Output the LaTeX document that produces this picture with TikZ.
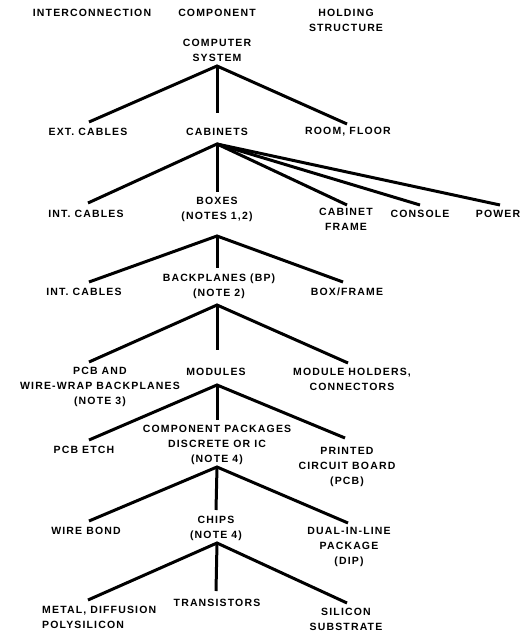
\documentclass[tikz,border=0pt]{standalone}
\usepackage{fontspec}
\setmainfont{Liberation Sans}[LetterSpace=11]
\begin{document}
\begin{tikzpicture}[x=1pt,y=-1pt,
  lbl/.style={inner sep=0pt, align=center, font=\fontsize{10.5}{15}\selectfont\bfseries},
  br/.style={line width=3pt, line cap=butt}]
\useasboundingbox (0,0) rectangle (527,631);
% headers
\node[lbl] (hInter) at (92,13) {INTERCONNECTION};
\node[lbl] (hComp) at (217,13) {COMPONENT};
\node[lbl] (hHold) at (346,20) {HOLDING\\STRUCTURE};
% level 0
\node[lbl] (sys) at (217,50.5) {COMPUTER\\SYSTEM};
% level 1
\node[lbl] (ext) at (88,132) {EXT. CABLES};
\node[lbl] (cab) at (217,132) {CABINETS};
\node[lbl] (room) at (348,132) {ROOM, FLOOR};
% level 2
\node[lbl] (int1) at (86,214) {INT. CABLES};
\node[lbl] (boxes) at (217,209) {BOXES\\(NOTES 1,2)};
\node[lbl] (cabf) at (346,219.5) {CABINET\\FRAME};
\node[lbl] (console) at (420,214) {CONSOLE};
\node[lbl] (power) at (498,214) {POWER};
% level 3
\node[lbl] (int2) at (84,292) {INT. CABLES};
\node[lbl] (bp) at (219,286.5) {BACKPLANES (BP)\\(NOTE 2)};
\node[lbl] (boxf) at (347,292) {BOX/FRAME};
% level 4
\node[lbl] (pcb) at (100,387) {PCB AND\\WIRE-WRAP BACKPLANES\\(NOTE 3)};
\node[lbl] (modules) at (216,372) {MODULES};
\node[lbl] (holders) at (352,379.5) {MODULE HOLDERS,\\CONNECTORS};
% level 5
\node[lbl] (etch) at (84,450) {PCB ETCH};
\node[lbl] (pkg) at (217,445) {COMPONENT PACKAGES\\DISCRETE OR IC\\(NOTE 4)};
\node[lbl] (pcbb) at (347,466.5) {PRINTED\\CIRCUIT BOARD\\(PCB)};
% level 6
\node[lbl] (bond) at (86,531) {WIRE BOND};
\node[lbl] (chips) at (216,528) {CHIPS\\(NOTE 4)};
\node[lbl] (dip) at (349,546.5) {DUAL-IN-LINE\\PACKAGE\\(DIP)};
% level 7
\node[lbl, anchor=west, align=left] (metal) at (42,617.5) {METAL, DIFFUSION\\POLYSILICON};
\node[lbl] (trans) at (217,603) {TRANSISTORS};
\node[lbl] (silicon) at (346,619) {SILICON\\SUBSTRATE};
% connector points
\coordinate (a0) at (217,66);
\coordinate (e0l) at (89,122); \coordinate (e0m) at (217,113); \coordinate (e0r) at (347,124);
\coordinate (a1) at (217,144);
\coordinate (e1l) at (88,203); \coordinate (e1m) at (217,192); \coordinate (e1f) at (347,205);
\coordinate (e1c) at (420,205); \coordinate (e1p) at (500,205);
\coordinate (a2) at (217,236);
\coordinate (e2l) at (89,282); \coordinate (e2m) at (217,268); \coordinate (e2r) at (343,282);
\coordinate (a3) at (217,305);
\coordinate (e3l) at (89,362); \coordinate (e3m) at (217,350); \coordinate (e3r) at (348,363);
\coordinate (a4) at (217,385);
\coordinate (e4l) at (89,440); \coordinate (e4m) at (217,420); \coordinate (e4r) at (345,438);
\coordinate (a5) at (217,467);
\coordinate (e5l) at (89,521); \coordinate (e5m) at (216,510); \coordinate (e5r) at (348,523);
\coordinate (a6) at (217,543);
\coordinate (e6l) at (88,600); \coordinate (e6m) at (216,591); \coordinate (e6r) at (347,603);
% connectors
\draw[br] (e0l) -- (a0) -- (e0r); \draw[br] (a0) -- (e0m);
\draw[br] (e1l) -- (a1) -- (e1f); \draw[br] (a1) -- (e1m); \draw[br] (a1) -- (e1c); \draw[br] (a1) -- (e1p);
\draw[br] (e2l) -- (a2) -- (e2r); \draw[br] (a2) -- (e2m);
\draw[br] (e3l) -- (a3) -- (e3r); \draw[br] (a3) -- (e3m);
\draw[br] (e4l) -- (a4) -- (e4r); \draw[br] (a4) -- (e4m);
\draw[br] (e5l) -- (a5) -- (e5r); \draw[br] (a5) -- (e5m);
\draw[br] (e6l) -- (a6) -- (e6r); \draw[br] (a6) -- (e6m);
\end{tikzpicture}
\end{document}
